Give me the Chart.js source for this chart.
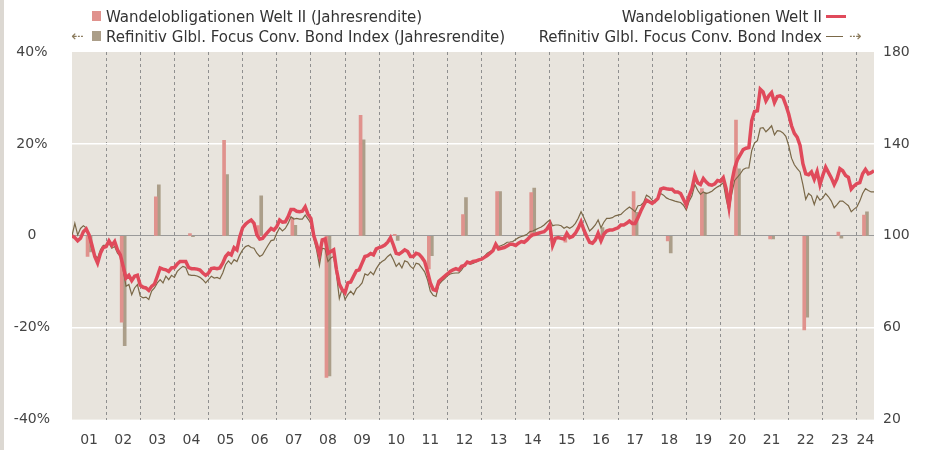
<!DOCTYPE html>
<html>
<head>
<meta charset="utf-8">
<script src="https://cdn.jsdelivr.net/npm/chart.js@4/dist/chart.umd.min.js"></script>
<style>
  html, body { margin: 0; padding: 0; background: #fff; }
  #wrap { position: relative; width: 925px; height: 450px; }
  canvas { position: absolute; left: 0; top: 0; }
  #strip { position: absolute; left: 0; top: 0; width: 4px; height: 450px; background: #dcd8d2; }
  .lg { position: absolute; font-family: "DejaVu Sans Condensed", "DejaVu Sans", sans-serif; font-size: 16.7px; color: #333; white-space: nowrap; line-height: 18px; }
  .sw { position: absolute; width: 9px; height: 10px; }
  .mk { position: absolute; }
  .ar { position: absolute; font-family: "DejaVu Sans", sans-serif; font-size: 15px; line-height: 18px; color: #8b7b5d; }
</style>
</head>
<body>
<div id="wrap">
  <canvas id="chart" width="925" height="450"></canvas>
  <div id="strip"></div>

  <div class="sw" style="left:92px; top:11px; background:#e0928d;"></div>
  <div class="lg" style="left:106px; top:7px;">Wandelobligationen Welt II (Jahresrendite)</div>
  <div class="ar" style="left:71px; top:27px;">&#8672;</div>
  <div class="sw" style="left:92px; top:31px; background:#ab9e89;"></div>
  <div class="lg" style="left:106px; top:27px;">Refinitiv Glbl. Focus Conv. Bond Index (Jahresrendite)</div>

  <div class="lg" style="right:103px; top:7px;">Wandelobligationen Welt II</div>
  <div class="mk" style="left:826px; top:15px; width:20px; height:3px; background:#e04a5b;"></div>
  <div class="lg" style="right:103px; top:27px;">Refinitiv Glbl. Focus Conv. Bond Index</div>
  <div class="mk" style="left:826px; top:36px; width:17px; height:1px; background:#7a6848;"></div>
  <div class="ar" style="left:849px; top:27px;">&#8674;</div>
</div>

<script>
// calendar years shown on the axis
const years = [2001, 2002, 2003, 2004, 2005, 2006, 2007, 2008, 2009, 2010, 2011, 2012,
               2013, 2014, 2015, 2016, 2017, 2018, 2019, 2020, 2021, 2022, 2023, 2024];
const yearLabels = ['01','02','03','04','05','06','07','08','09','10','11','12',
                    '13','14','15','16','17','18','19','20','21','22','23','24'];

// annual returns in % (left axis)
const fundAnnual  = [-4.5, -18.8, 8.5, 0.5, 20.8, 2.2, 3.9, -30.8, 26.2, 0.3, -7.2, 4.6,
                     9.6, 9.4, -1.4, -0.5, 9.6, -1.1, 10.3, 25.2, -0.7, -20.5, 0.8, 4.5];
const indexAnnual = [-3.5, -23.9, 11.1, -0.2, 13.3, 8.7, 2.3, -30.5, 20.9, -1.0, -4.3, 8.3,
                     9.6, 10.4, -0.3, 1.8, 5.1, -3.7, 9.4, 14.6, -0.7, -17.7, -0.5, 5.2];

// month-end values, indexed to 100 at end of 2000 (right axis)
const seriesStart = 2001;   // first point = start of 2001
const seriesEnd = 2024.5;   // last point = end of June 2024
const fundPrice = [
  100.0, 99.2, 97.8, 98.9, 101.8, 103.0, 100.4, 96.0, 91.0, 88.1, 92.4,
  94.9, 95.3, 97.8, 95.8, 97.5, 93.9, 91.7, 86.7, 81.6, 82.8,
  80.5, 82.4, 82.8, 78.5, 77.6, 77.3, 76.2, 78.0, 79.0, 82.4,
  86.0, 85.5, 85.2, 84.5, 86.0, 86.2, 87.7, 88.8, 88.8, 88.8,
  86.2, 85.7, 85.7, 85.5, 85.1, 83.8, 82.8, 83.8, 85.7, 86.0,
  85.7, 86.0, 88.1, 91.0, 92.4, 91.7, 94.9, 93.9, 99.6, 103.5,
  105.0, 106.1, 106.9, 105.4, 100.4, 98.6, 98.9, 100.4, 101.8, 103.2,
  102.5, 104.0, 106.9, 105.9, 106.1, 108.3, 111.5, 111.5, 110.7, 110.5,
  110.7, 112.6, 109.3, 107.6, 100.1, 96.3, 91.7, 98.2, 98.6, 92.4,
  93.2, 93.9, 85.2, 79.0, 76.5, 75.2, 79.5, 79.9, 82.4, 84.8,
  85.2, 88.1, 91.0, 91.4, 92.3, 91.7, 94.3, 94.9, 95.3, 96.0,
  97.2, 99.2, 96.0, 92.4, 92.0, 92.9, 93.9, 93.2, 91.0, 91.0,
  92.4, 92.0, 90.6, 88.8, 84.5, 79.5, 76.6, 76.2, 80.2, 81.3,
  82.4, 83.4, 84.5, 85.2, 85.7, 85.2, 86.7, 87.1, 88.6, 88.1,
  88.8, 89.0, 89.5, 89.8, 90.6, 91.4, 92.4, 93.5, 96.3, 94.3,
  94.6, 94.9, 95.6, 96.3, 96.3, 95.8, 96.8, 97.5, 97.2, 98.2,
  99.6, 100.4, 100.7, 101.1, 101.5, 101.8, 103.0, 105.0, 95.8, 98.9,
  99.2, 98.9, 98.6, 101.1, 99.2, 99.7, 101.1, 103.3, 106.1, 102.5,
  99.7, 97.2, 96.8, 98.2, 101.1, 97.8, 100.7, 102.1, 102.5, 102.5,
  103.0, 103.5, 104.7, 104.7, 105.4, 106.4, 105.4, 105.4, 107.9, 110.8,
  113.3, 115.5, 114.8, 114.1, 115.1, 116.2, 120.3, 120.8, 120.5, 120.3,
  120.3, 119.1, 119.1, 118.4, 115.9, 113.3, 117.4, 120.5, 126.3, 123.1,
  122.3, 124.9, 123.4, 122.3, 122.0, 122.6, 124.1, 123.7, 125.3, 120.5,
  112.6, 123.4, 129.5, 133.2, 135.3, 137.5, 138.1, 138.4, 150.1, 154.1,
  154.4, 163.8, 162.6, 158.7, 160.9, 162.3, 158.0, 160.6, 160.9, 160.2,
  156.9, 153.0, 147.9, 144.6, 142.9, 139.3, 131.4, 127.0, 126.6, 127.8,
  124.6, 128.0, 122.3, 126.3, 129.9, 127.5, 125.2, 122.3, 124.9, 129.2,
  128.3, 126.3, 125.5, 120.3, 121.7, 122.7, 123.1, 127.0, 128.9, 127.0,
  127.5, 128.3
];
const indexPrice = [
  100.0, 105.4, 100.4, 103.2, 104.4, 103.5, 99.6, 93.9, 91.7, 90.3, 93.9,
  95.8, 95.8, 96.8, 94.6, 95.3, 92.4, 91.0, 85.2, 78.0, 78.8,
  74.4, 77.3, 78.8, 73.7, 73.0, 73.3, 72.3, 75.9, 77.3, 79.5,
  80.9, 79.5, 82.4, 80.9, 82.8, 81.9, 84.5, 85.7, 86.7, 86.2,
  83.1, 82.8, 82.8, 82.5, 81.9, 80.9, 79.5, 80.9, 82.4, 81.6,
  81.9, 81.3, 83.8, 87.4, 89.1, 87.7, 89.6, 88.8, 91.7, 93.9,
  95.3, 95.8, 94.9, 94.6, 92.4, 91.0, 91.7, 93.9, 96.0, 97.9,
  98.2, 101.1, 103.5, 102.1, 103.2, 105.4, 108.3, 107.3, 107.6, 107.3,
  107.3, 109.0, 107.3, 105.4, 98.9, 93.9, 87.1, 94.6, 94.3, 88.8,
  90.3, 91.0, 83.1, 72.7, 77.0, 72.3, 74.4, 75.9, 74.4, 77.0,
  78.0, 79.5, 83.4, 82.8, 84.3, 83.1, 85.7, 87.7, 88.8, 89.6,
  91.0, 92.0, 89.6, 86.7, 88.1, 86.0, 89.1, 88.6, 86.7, 85.7,
  88.1, 87.7, 86.0, 84.3, 80.9, 75.9, 74.1, 73.6, 78.8, 80.2,
  81.3, 82.6, 83.4, 83.7, 83.8, 83.8, 85.2, 87.1, 88.1, 87.7,
  88.0, 88.6, 89.2, 90.0, 91.0, 92.4, 93.2, 93.9, 95.8, 95.3,
  95.8, 96.3, 97.2, 97.3, 97.5, 98.4, 99.2, 99.7, 100.1, 100.7,
  101.8, 102.1, 102.7, 103.3, 103.8, 104.7, 105.9, 106.9, 104.4, 104.7,
  104.7, 104.4, 103.3, 104.0, 103.3, 104.0, 105.4, 107.6, 110.5, 107.9,
  105.0, 102.1, 103.3, 104.7, 106.9, 103.5, 105.9, 107.6, 107.6, 107.9,
  108.7, 109.0, 109.3, 110.5, 111.6, 112.5, 111.6, 110.5, 113.1, 113.3,
  114.5, 117.7, 116.9, 115.5, 114.5, 116.5, 118.4, 117.7, 116.5, 115.9,
  115.5, 115.1, 114.8, 114.5, 113.3, 111.2, 115.1, 117.4, 122.3, 119.8,
  118.0, 119.1, 118.4, 118.8, 119.4, 120.5, 121.3, 122.0, 123.1, 116.2,
  110.8, 118.4, 124.1, 125.5, 127.0, 128.9, 129.5, 129.5, 137.1, 140.4,
  141.4, 146.8, 147.1, 145.3, 146.5, 147.9, 143.9, 145.8, 145.6, 144.8,
  143.3, 139.3, 133.8, 130.9, 129.2, 127.8, 122.3, 115.9, 118.4, 117.4,
  113.6, 117.4, 115.5, 116.5, 118.4, 117.0, 115.1, 112.2, 113.6, 115.1,
  115.1, 114.1, 113.1, 110.5, 111.6, 112.6, 115.1, 118.4, 120.5, 119.7,
  119.1, 119.1
];

// monthly points on a year axis, annual bars in the middle of each (visible) year
const monthX = i => seriesStart + i / 12;
const yearMid = y => (y + Math.min(y + 1, seriesEnd)) / 2;

const fundLine  = fundPrice.map((v, i) => ({ x: monthX(i), y: v }));
const indexLine = indexPrice.map((v, i) => ({ x: monthX(i), y: v }));
const fundBars  = fundAnnual.map((v, i) => ({ x: yearMid(years[i]), y: v }));
const indexBars = indexAnnual.map((v, i) => ({ x: yearMid(years[i]), y: v }));

const plotBg = {
  id: 'plotBg',
  beforeDraw(chart) {
    const { ctx, chartArea: a } = chart;
    ctx.save();
    ctx.fillStyle = '#e8e4dd';
    ctx.fillRect(a.left, a.top, a.right - a.left, a.bottom - a.top);
    ctx.restore();
  }
};

Chart.defaults.font.family = '"DejaVu Sans", sans-serif';
Chart.defaults.font.size = 14;
Chart.defaults.color = '#444';

const tickFont = { family: '"DejaVu Sans", sans-serif', size: 14 };

new Chart(document.getElementById('chart').getContext('2d'), {
  type: 'line',
  data: {
    datasets: [
      {
        type: 'line',
        label: 'Wandelobligationen Welt II',
        data: fundLine,
        yAxisID: 'yR',
        borderColor: '#e04a5b',
        borderWidth: 3.5,
        pointRadius: 0,
        tension: 0,
        order: 1
      },
      {
        type: 'line',
        label: 'Refinitiv Glbl. Focus Conv. Bond Index',
        data: indexLine,
        yAxisID: 'yR',
        borderColor: '#7a6848',
        borderWidth: 1.2,
        pointRadius: 0,
        tension: 0,
        order: 2
      },
      {
        type: 'bar',
        label: 'Wandelobligationen Welt II (Jahresrendite)',
        data: fundBars,
        yAxisID: 'yL',
        backgroundColor: '#e0928d',
        barThickness: 3,
        order: 3
      },
      {
        type: 'bar',
        label: 'Refinitiv Glbl. Focus Conv. Bond Index (Jahresrendite)',
        data: indexBars,
        yAxisID: 'yL',
        backgroundColor: '#ab9e89',
        barThickness: 3,
        order: 3
      }
    ]
  },
  options: {
    responsive: false,
    animation: false,
    devicePixelRatio: 1,
    layout: { padding: { top: 52, left: 0, right: 0, bottom: 0 } },
    plugins: {
      legend: { display: false },
      tooltip: { enabled: false }
    },
    scales: {
      x: {
        type: 'linear',
        position: 'bottom',
        min: seriesStart,
        max: seriesEnd,
        offset: false,
        afterBuildTicks: scale => { scale.ticks = years.slice(1).map(y => ({ value: y })); },
        afterFit: scale => { scale.height = 0; },
        ticks: { display: false },
        grid: { color: '#8f8f8f', lineWidth: 1, drawTicks: false, offset: false },
        border: { display: false, dash: [3, 3] }
      },
      xl: {
        type: 'linear',
        position: 'bottom',
        min: seriesStart,
        max: seriesEnd,
        offset: false,
        afterBuildTicks: scale => { scale.ticks = years.map(y => ({ value: yearMid(y) })); },
        afterFit: scale => { scale.height = 28; },
        ticks: {
          autoSkip: false,
          maxRotation: 0,
          padding: 12,
          font: tickFont,
          color: '#444',
          callback: (v, i) => yearLabels[i]
        },
        grid: { display: false, drawTicks: false },
        border: { display: false }
      },
      yL: {
        type: 'linear',
        position: 'left',
        min: -40,
        max: 40,
        afterFit: scale => { scale.width = 72; },
        ticks: {
          stepSize: 20,
          padding: 22,
          crossAlign: 'center',
          font: tickFont,
          color: '#444',
          callback: v => (v === 0 ? '0' : v + '%')
        },
        grid: {
          drawTicks: false,
          color: ctx => (ctx.tick.value === 0 ? '#9a9a9a' : (Math.abs(ctx.tick.value) === 20 ? '#ffffff' : 'rgba(0,0,0,0)')),
          lineWidth: ctx => (ctx.tick.value === 0 ? 1 : 1.5)
        },
        border: { display: false }
      },
      yR: {
        type: 'linear',
        position: 'right',
        min: 20,
        max: 180,
        afterFit: scale => { scale.width = 51; },
        ticks: {
          stepSize: 40,
          padding: 9,
          font: tickFont,
          color: '#444'
        },
        grid: { display: false, drawTicks: false },
        border: { display: false }
      }
    }
  },
  plugins: [plotBg]
});
</script>
</body>
</html>
